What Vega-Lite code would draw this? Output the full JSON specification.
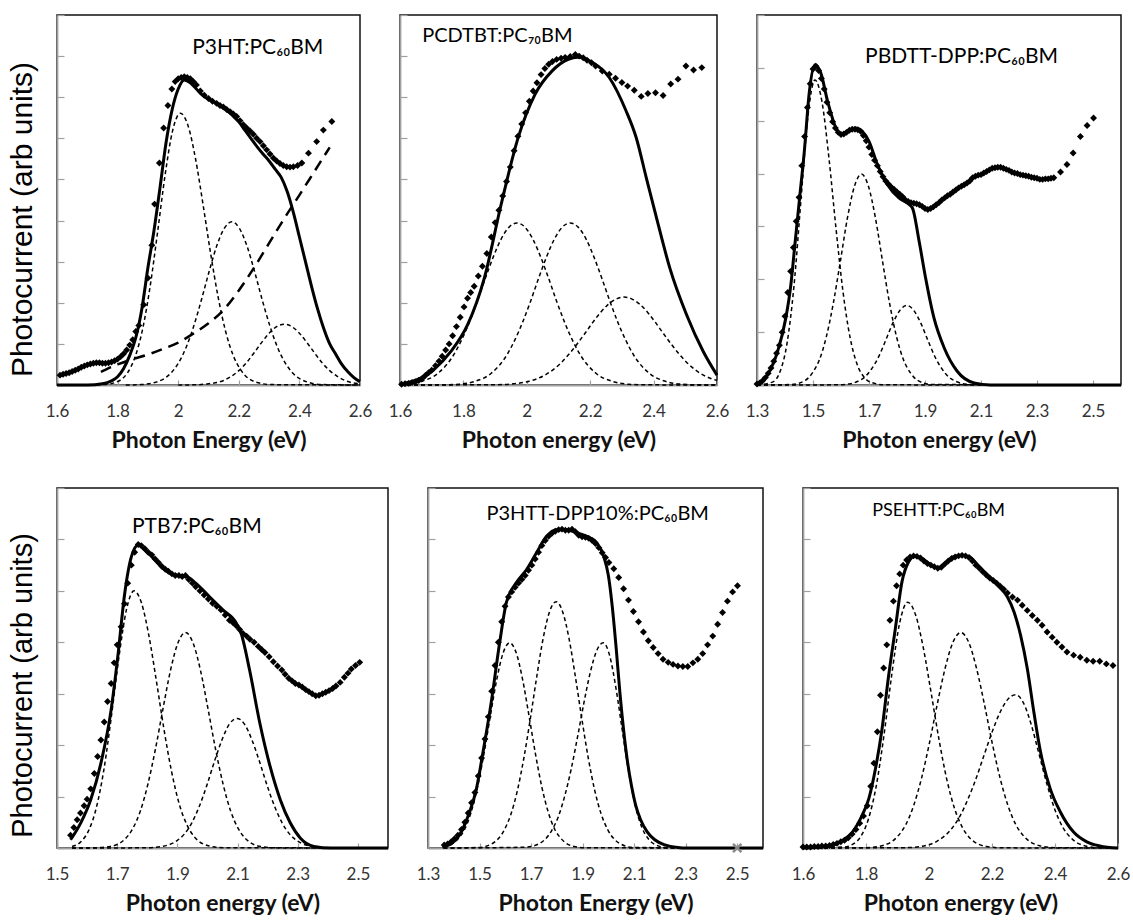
{
"$schema": "https://vega.github.io/schema/vega-lite/v6.json",
"padding": {"left": 6, "top": 13, "right": 5, "bottom": 0},
"config": {
  "view": {"stroke": "#111111", "strokeWidth": 1.5},
  "axis": {"grid": false, "domainColor": "#a0a0a0", "domainWidth": 1.8, "tickColor": "#a0a0a0", "tickWidth": 1.2, "labelFont": "Lato", "labelFontSize": 17, "labelColor": "#333333", "titleFont": "Lato", "titleFontSize": 23, "titleFontWeight": "bold", "titleColor": "#111111"},
  "axisX": {"tickSize": -5, "labelPadding": 23, "titlePadding": 10, "labelFlush": false, "format": "~g", "labelOverlap": false},
  "axisY": {"tickSize": -7, "labels": false, "titleFont": "Liberation Sans", "titleFontWeight": "normal", "titleColor": "#000000", "titlePadding": 19},
  "text": {"font": "Lato"}
},
"spacing": 33,
"vconcat": [
 {"hconcat": [
 {"width": 303, "height": 370, "data": {"name": "p1"},
  "layer": [
   {"transform": [{"filter": "datum.s === 'g1' || datum.s === 'g2' || datum.s === 'g3'"}], "mark": {"type": "line", "interpolate": "monotone", "strokeDash": [4, 3], "strokeWidth": 1.5, "color": "#000000"},
    "encoding": {"x": {"field": "e", "type": "quantitative", "scale": {"domain": [1.6, 2.6], "nice": false, "zero": false}, "axis": {"values": [1.6, 1.8, 2, 2.2, 2.4, 2.6], "title": "Photon Energy (eV)"}},
     "y": {"field": "v", "type": "quantitative", "scale": {"domain": [0, 9], "nice": false}, "axis": {"values": [0,1,2,3,4,5,6,7,8,9], "title": "Photocurrent (arb units)", "titleFontSize": 30, "titleY": 204}},
     "detail": {"field": "s"}}},
   {"transform": [{"filter": "datum.s === 'b'"}], "mark": {"type": "line", "interpolate": "monotone", "strokeDash": [11, 7], "strokeWidth": 2.5, "color": "#000000"},
    "encoding": {"x": {"field": "e", "type": "quantitative", "scale": {"domain": [1.6, 2.6], "nice": false, "zero": false}}, "y": {"field": "v", "type": "quantitative", "scale": {"domain": [0, 9], "nice": false}}}},
   {"transform": [{"filter": "datum.s === 'f'"}], "mark": {"type": "line", "interpolate": "monotone", "strokeWidth": 3, "color": "#000000"},
    "encoding": {"x": {"field": "e", "type": "quantitative", "scale": {"domain": [1.6, 2.6], "nice": false, "zero": false}}, "y": {"field": "v", "type": "quantitative", "scale": {"domain": [0, 9], "nice": false}}}},
   {"transform": [{"filter": "datum.s === 'd'"}], "mark": {"type": "point", "shape": "diamond", "filled": true, "size": 48, "opacity": 1, "color": "#000000"},
    "encoding": {"x": {"field": "e", "type": "quantitative", "scale": {"domain": [1.6, 2.6], "nice": false, "zero": false}}, "y": {"field": "v", "type": "quantitative", "scale": {"domain": [0, 9], "nice": false}}}},
   {"data": {"values": [{}]}, "mark": {"type": "text", "align": "left", "baseline": "middle", "fontSize": 21, "color": "#000000"},
    "encoding": {"x": {"datum": 2.046, "type": "quantitative", "scale": {"domain": [1.6, 2.6], "nice": false, "zero": false}}, "y": {"datum": 8.2, "type": "quantitative", "scale": {"domain": [0, 9], "nice": false}}, "text": {"value": "P3HT:PC₆₀BM"}}}
  ]},
 {"width": 317, "height": 370, "data": {"name": "p2"},
  "layer": [
   {"transform": [{"filter": "datum.s === 'g1' || datum.s === 'g2' || datum.s === 'g3'"}], "mark": {"type": "line", "interpolate": "monotone", "strokeDash": [4, 3], "strokeWidth": 1.5, "color": "#000000"},
    "encoding": {"x": {"field": "e", "type": "quantitative", "scale": {"domain": [1.6, 2.6], "nice": false, "zero": false}, "axis": {"values": [1.6, 1.8, 2, 2.2, 2.4, 2.6], "title": "Photon energy (eV)"}},
     "y": {"field": "v", "type": "quantitative", "scale": {"domain": [0, 9], "nice": false}, "axis": {"values": [0,1,2,3,4,5,6,7,8,9], "title": null}},
     "detail": {"field": "s"}}},
   {"transform": [{"filter": "datum.s === 'f'"}], "mark": {"type": "line", "interpolate": "monotone", "strokeWidth": 3, "color": "#000000"},
    "encoding": {"x": {"field": "e", "type": "quantitative", "scale": {"domain": [1.6, 2.6], "nice": false, "zero": false}}, "y": {"field": "v", "type": "quantitative", "scale": {"domain": [0, 9], "nice": false}}}},
   {"transform": [{"filter": "datum.s === 'd'"}], "mark": {"type": "point", "shape": "diamond", "filled": true, "size": 48, "opacity": 1, "color": "#000000"},
    "encoding": {"x": {"field": "e", "type": "quantitative", "scale": {"domain": [1.6, 2.6], "nice": false, "zero": false}}, "y": {"field": "v", "type": "quantitative", "scale": {"domain": [0, 9], "nice": false}}}},
   {"data": {"values": [{}]}, "mark": {"type": "text", "align": "left", "baseline": "middle", "fontSize": 20, "color": "#000000"},
    "encoding": {"x": {"datum": 1.67, "type": "quantitative", "scale": {"domain": [1.6, 2.6], "nice": false, "zero": false}}, "y": {"datum": 8.5, "type": "quantitative", "scale": {"domain": [0, 9], "nice": false}}, "text": {"value": "PCDTBT:PC₇₀BM"}}}
  ]},
 {"width": 364, "height": 370, "data": {"name": "p3"},
  "layer": [
   {"transform": [{"filter": "datum.s === 'g1' || datum.s === 'g2' || datum.s === 'g3'"}], "mark": {"type": "line", "interpolate": "monotone", "strokeDash": [4, 3], "strokeWidth": 1.5, "color": "#000000"},
    "encoding": {"x": {"field": "e", "type": "quantitative", "scale": {"domain": [1.3, 2.6], "nice": false, "zero": false}, "axis": {"values": [1.3, 1.5, 1.7, 1.9, 2.1, 2.3, 2.5], "title": "Photon energy (eV)"}},
     "y": {"field": "v", "type": "quantitative", "scale": {"domain": [0, 7], "nice": false}, "axis": {"values": [0,1,2,3,4,5,6,7], "title": null}},
     "detail": {"field": "s"}}},
   {"transform": [{"filter": "datum.s === 'f'"}], "mark": {"type": "line", "interpolate": "monotone", "strokeWidth": 3, "color": "#000000"},
    "encoding": {"x": {"field": "e", "type": "quantitative", "scale": {"domain": [1.3, 2.6], "nice": false, "zero": false}}, "y": {"field": "v", "type": "quantitative", "scale": {"domain": [0, 7], "nice": false}}}},
   {"transform": [{"filter": "datum.s === 'd'"}], "mark": {"type": "point", "shape": "diamond", "filled": true, "size": 48, "opacity": 1, "color": "#000000"},
    "encoding": {"x": {"field": "e", "type": "quantitative", "scale": {"domain": [1.3, 2.6], "nice": false, "zero": false}}, "y": {"field": "v", "type": "quantitative", "scale": {"domain": [0, 7], "nice": false}}}},
   {"data": {"values": [{}]}, "mark": {"type": "text", "align": "left", "baseline": "middle", "fontSize": 21, "color": "#000000"},
    "encoding": {"x": {"datum": 1.686, "type": "quantitative", "scale": {"domain": [1.3, 2.6], "nice": false, "zero": false}}, "y": {"datum": 6.2, "type": "quantitative", "scale": {"domain": [0, 7], "nice": false}}, "text": {"value": "PBDTT-DPP:PC₆₀BM"}}}
  ]}
 ], "spacing": 40, "bounds": "flush"},
 {"hconcat": [
 {"width": 331, "height": 360, "data": {"name": "p4"},
  "layer": [
   {"transform": [{"filter": "datum.s === 'g1' || datum.s === 'g2' || datum.s === 'g3'"}], "mark": {"type": "line", "interpolate": "monotone", "strokeDash": [4, 3], "strokeWidth": 1.5, "color": "#000000"},
    "encoding": {"x": {"field": "e", "type": "quantitative", "scale": {"domain": [1.5, 2.6], "nice": false, "zero": false}, "axis": {"values": [1.5, 1.7, 1.9, 2.1, 2.3, 2.5], "title": "Photon energy (eV)"}},
     "y": {"field": "v", "type": "quantitative", "scale": {"domain": [0, 7], "nice": false}, "axis": {"values": [0,1,2,3,4,5,6,7], "title": "Photocurrent (arb units)", "titleFontSize": 29, "titleY": 197}},
     "detail": {"field": "s"}}},
   {"transform": [{"filter": "datum.s === 'f'"}], "mark": {"type": "line", "interpolate": "monotone", "strokeWidth": 3, "color": "#000000"},
    "encoding": {"x": {"field": "e", "type": "quantitative", "scale": {"domain": [1.5, 2.6], "nice": false, "zero": false}}, "y": {"field": "v", "type": "quantitative", "scale": {"domain": [0, 7], "nice": false}}}},
   {"transform": [{"filter": "datum.s === 'd'"}], "mark": {"type": "point", "shape": "diamond", "filled": true, "size": 48, "opacity": 1, "color": "#000000"},
    "encoding": {"x": {"field": "e", "type": "quantitative", "scale": {"domain": [1.5, 2.6], "nice": false, "zero": false}}, "y": {"field": "v", "type": "quantitative", "scale": {"domain": [0, 7], "nice": false}}}},
   {"data": {"values": [{}]}, "mark": {"type": "text", "align": "left", "baseline": "middle", "fontSize": 21, "color": "#000000"},
    "encoding": {"x": {"datum": 1.749, "type": "quantitative", "scale": {"domain": [1.5, 2.6], "nice": false, "zero": false}}, "y": {"datum": 6.25, "type": "quantitative", "scale": {"domain": [0, 7], "nice": false}}, "text": {"value": "PTB7:PC₆₀BM"}}}
  ]},
 {"width": 335, "height": 360, "data": {"name": "p5"},
  "layer": [
   {"transform": [{"filter": "datum.s === 'g1' || datum.s === 'g2' || datum.s === 'g3'"}], "mark": {"type": "line", "interpolate": "monotone", "strokeDash": [4, 3], "strokeWidth": 1.5, "color": "#000000"},
    "encoding": {"x": {"field": "e", "type": "quantitative", "scale": {"domain": [1.3, 2.6], "nice": false, "zero": false}, "axis": {"values": [1.3, 1.5, 1.7, 1.9, 2.1, 2.3, 2.5], "title": "Photon Energy (eV)"}},
     "y": {"field": "v", "type": "quantitative", "scale": {"domain": [0, 7], "nice": false}, "axis": {"values": [0,1,2,3,4,5,6,7], "title": null}},
     "detail": {"field": "s"}}},
   {"transform": [{"filter": "datum.s === 'f'"}], "mark": {"type": "line", "interpolate": "monotone", "strokeWidth": 3, "color": "#000000"},
    "encoding": {"x": {"field": "e", "type": "quantitative", "scale": {"domain": [1.3, 2.6], "nice": false, "zero": false}}, "y": {"field": "v", "type": "quantitative", "scale": {"domain": [0, 7], "nice": false}}}},
   {"transform": [{"filter": "datum.s === 'd'"}], "mark": {"type": "point", "shape": "diamond", "filled": true, "size": 48, "opacity": 1, "color": "#000000"},
    "encoding": {"x": {"field": "e", "type": "quantitative", "scale": {"domain": [1.3, 2.6], "nice": false, "zero": false}}, "y": {"field": "v", "type": "quantitative", "scale": {"domain": [0, 7], "nice": false}}}},
   {"transform": [{"filter": "datum.s === 'x'"}], "mark": {"type": "point", "shape": "M-1,-1L1,1M1,-1L-1,1", "filled": false, "size": 70, "strokeWidth": 2.5, "opacity": 1, "color": "#8a8a8a"},
    "encoding": {"x": {"field": "e", "type": "quantitative", "scale": {"domain": [1.3, 2.6], "nice": false, "zero": false}}, "y": {"field": "v", "type": "quantitative", "scale": {"domain": [0, 7], "nice": false}}}},
   {"data": {"values": [{}]}, "mark": {"type": "text", "align": "left", "baseline": "middle", "fontSize": 20, "color": "#000000"},
    "encoding": {"x": {"datum": 1.527, "type": "quantitative", "scale": {"domain": [1.3, 2.6], "nice": false, "zero": false}}, "y": {"datum": 6.5, "type": "quantitative", "scale": {"domain": [0, 7], "nice": false}}, "text": {"value": "P3HTT-DPP10%:PC₆₀BM"}}}
  ]},
 {"width": 315, "height": 360, "data": {"name": "p6"},
  "layer": [
   {"transform": [{"filter": "datum.s === 'g1' || datum.s === 'g2' || datum.s === 'g3'"}], "mark": {"type": "line", "interpolate": "monotone", "strokeDash": [4, 3], "strokeWidth": 1.5, "color": "#000000"},
    "encoding": {"x": {"field": "e", "type": "quantitative", "scale": {"domain": [1.6, 2.6], "nice": false, "zero": false}, "axis": {"values": [1.6, 1.8, 2, 2.2, 2.4, 2.6], "title": "Photon energy (eV)"}},
     "y": {"field": "v", "type": "quantitative", "scale": {"domain": [0, 7], "nice": false}, "axis": {"values": [0,1,2,3,4,5,6,7], "title": null}},
     "detail": {"field": "s"}}},
   {"transform": [{"filter": "datum.s === 'f'"}], "mark": {"type": "line", "interpolate": "monotone", "strokeWidth": 3, "color": "#000000"},
    "encoding": {"x": {"field": "e", "type": "quantitative", "scale": {"domain": [1.6, 2.6], "nice": false, "zero": false}}, "y": {"field": "v", "type": "quantitative", "scale": {"domain": [0, 7], "nice": false}}}},
   {"transform": [{"filter": "datum.s === 'd'"}], "mark": {"type": "point", "shape": "diamond", "filled": true, "size": 48, "opacity": 1, "color": "#000000"},
    "encoding": {"x": {"field": "e", "type": "quantitative", "scale": {"domain": [1.6, 2.6], "nice": false, "zero": false}}, "y": {"field": "v", "type": "quantitative", "scale": {"domain": [0, 7], "nice": false}}}},
   {"data": {"values": [{}]}, "mark": {"type": "text", "align": "left", "baseline": "middle", "fontSize": 18, "color": "#000000"},
    "encoding": {"x": {"datum": 1.82, "type": "quantitative", "scale": {"domain": [1.6, 2.6], "nice": false, "zero": false}}, "y": {"datum": 6.55, "type": "quantitative", "scale": {"domain": [0, 7], "nice": false}}, "text": {"value": "PSEHTT:PC₆₀BM"}}}
  ]}
 ], "spacing": 40, "bounds": "flush"}
],
"datasets": {
 "p1": [
  {"s":"d","e":1.61,"v":0.24},{"s":"d","e":1.62,"v":0.26},{"s":"d","e":1.63,"v":0.28},{"s":"d","e":1.64,"v":0.3},{"s":"d","e":1.65,"v":0.33},{"s":"d","e":1.66,"v":0.36},{"s":"d","e":1.67,"v":0.39},{"s":"d","e":1.68,"v":0.43},{"s":"d","e":1.69,"v":0.46},{"s":"d","e":1.7,"v":0.49},{"s":"d","e":1.71,"v":0.51},{"s":"d","e":1.72,"v":0.53},{"s":"d","e":1.73,"v":0.54},{"s":"d","e":1.74,"v":0.54},{"s":"d","e":1.75,"v":0.53},{"s":"d","e":1.76,"v":0.53},{"s":"d","e":1.77,"v":0.54},{"s":"d","e":1.78,"v":0.56},{"s":"d","e":1.79,"v":0.59},{"s":"d","e":1.8,"v":0.63},{"s":"d","e":1.81,"v":0.69},{"s":"d","e":1.82,"v":0.76},{"s":"d","e":1.83,"v":0.85},{"s":"d","e":1.84,"v":0.97},{"s":"d","e":1.85,"v":1.1},{"s":"d","e":1.86,"v":1.3},{"s":"d","e":1.87,"v":1.45},{"s":"d","e":1.886,"v":1.95},{"s":"d","e":1.9,"v":2.6},{"s":"d","e":1.913,"v":3.4},{"s":"d","e":1.922,"v":4.4},{"s":"d","e":1.938,"v":5.4},{"s":"d","e":1.952,"v":6.25},{"s":"d","e":1.966,"v":6.8},{"s":"d","e":1.979,"v":7.2},{"s":"d","e":1.99,"v":7.38},{"s":"d","e":2.0,"v":7.45},{"s":"d","e":2.01,"v":7.48},{"s":"d","e":2.02,"v":7.5},{"s":"d","e":2.03,"v":7.48},{"s":"d","e":2.04,"v":7.45},{"s":"d","e":2.05,"v":7.38},{"s":"d","e":2.06,"v":7.3},{"s":"d","e":2.073,"v":7.15},{"s":"d","e":2.086,"v":7.05},{"s":"d","e":2.1,"v":6.97},{"s":"d","e":2.113,"v":6.9},{"s":"d","e":2.127,"v":6.85},{"s":"d","e":2.138,"v":6.8},{"s":"d","e":2.149,"v":6.76},{"s":"d","e":2.16,"v":6.7},{"s":"d","e":2.171,"v":6.65},{"s":"d","e":2.182,"v":6.59},{"s":"d","e":2.193,"v":6.53},{"s":"d","e":2.204,"v":6.43},{"s":"d","e":2.215,"v":6.33},{"s":"d","e":2.226,"v":6.25},{"s":"d","e":2.237,"v":6.18},{"s":"d","e":2.248,"v":6.1},{"s":"d","e":2.259,"v":6.0},{"s":"d","e":2.27,"v":5.92},{"s":"d","e":2.281,"v":5.82},{"s":"d","e":2.292,"v":5.72},{"s":"d","e":2.303,"v":5.62},{"s":"d","e":2.314,"v":5.52},{"s":"d","e":2.325,"v":5.45},{"s":"d","e":2.336,"v":5.39},{"s":"d","e":2.347,"v":5.34},{"s":"d","e":2.358,"v":5.31},{"s":"d","e":2.369,"v":5.3},{"s":"d","e":2.38,"v":5.31},{"s":"d","e":2.394,"v":5.34},{"s":"d","e":2.408,"v":5.4},{"s":"d","e":2.43,"v":5.64},{"s":"d","e":2.457,"v":5.92},{"s":"d","e":2.479,"v":6.2},{"s":"d","e":2.507,"v":6.41},
  {"s":"f","e":1.6,"v":0},{"s":"f","e":1.7,"v":0},{"s":"f","e":1.75,"v":0.03},{"s":"f","e":1.78,"v":0.1},{"s":"f","e":1.8,"v":0.2},{"s":"f","e":1.82,"v":0.4},{"s":"f","e":1.84,"v":0.72},{"s":"f","e":1.86,"v":1.15},{"s":"f","e":1.88,"v":1.85},{"s":"f","e":1.9,"v":2.85},{"s":"f","e":1.92,"v":3.75},{"s":"f","e":1.94,"v":4.8},{"s":"f","e":1.96,"v":5.9},{"s":"f","e":1.98,"v":6.7},{"s":"f","e":2.0,"v":7.2},{"s":"f","e":2.02,"v":7.42},{"s":"f","e":2.04,"v":7.35},{"s":"f","e":2.06,"v":7.2},{"s":"f","e":2.08,"v":7.05},{"s":"f","e":2.1,"v":6.95},{"s":"f","e":2.12,"v":6.88},{"s":"f","e":2.14,"v":6.78},{"s":"f","e":2.16,"v":6.68},{"s":"f","e":2.18,"v":6.55},{"s":"f","e":2.2,"v":6.4},{"s":"f","e":2.22,"v":6.2},{"s":"f","e":2.24,"v":6.0},{"s":"f","e":2.26,"v":5.8},{"s":"f","e":2.28,"v":5.62},{"s":"f","e":2.3,"v":5.45},{"s":"f","e":2.32,"v":5.25},{"s":"f","e":2.34,"v":5.05},{"s":"f","e":2.36,"v":4.7},{"s":"f","e":2.38,"v":4.2},{"s":"f","e":2.4,"v":3.6},{"s":"f","e":2.42,"v":3.0},{"s":"f","e":2.44,"v":2.4},{"s":"f","e":2.46,"v":1.85},{"s":"f","e":2.48,"v":1.38},{"s":"f","e":2.5,"v":1.0},{"s":"f","e":2.52,"v":0.75},{"s":"f","e":2.54,"v":0.5},{"s":"f","e":2.56,"v":0.32},{"s":"f","e":2.58,"v":0.18},{"s":"f","e":2.6,"v":0.08},
  {"s":"g1","e":1.707,"v":0},{"s":"g1","e":1.757,"v":0.01},{"s":"g1","e":1.807,"v":0.11},{"s":"g1","e":1.832,"v":0.29},{"s":"g1","e":1.857,"v":0.67},{"s":"g1","e":1.882,"v":1.34},{"s":"g1","e":1.907,"v":2.38},{"s":"g1","e":1.932,"v":3.72},{"s":"g1","e":1.957,"v":5.12},{"s":"g1","e":1.982,"v":6.2},{"s":"g1","e":2.007,"v":6.61},{"s":"g1","e":2.032,"v":6.32},{"s":"g1","e":2.057,"v":5.51},{"s":"g1","e":2.082,"v":4.39},{"s":"g1","e":2.107,"v":3.2},{"s":"g1","e":2.132,"v":2.13},{"s":"g1","e":2.157,"v":1.29},{"s":"g1","e":2.182,"v":0.71},{"s":"g1","e":2.207,"v":0.36},{"s":"g1","e":2.257,"v":0.07},{"s":"g1","e":2.307,"v":0.01},{"s":"g1","e":2.6,"v":0},
  {"s":"g2","e":1.827,"v":0},{"s":"g2","e":1.877,"v":0.01},{"s":"g2","e":1.927,"v":0.07},{"s":"g2","e":1.977,"v":0.3},{"s":"g2","e":2.002,"v":0.55},{"s":"g2","e":2.027,"v":0.93},{"s":"g2","e":2.052,"v":1.45},{"s":"g2","e":2.077,"v":2.08},{"s":"g2","e":2.102,"v":2.76},{"s":"g2","e":2.127,"v":3.38},{"s":"g2","e":2.152,"v":3.81},{"s":"g2","e":2.177,"v":3.97},{"s":"g2","e":2.202,"v":3.81},{"s":"g2","e":2.227,"v":3.38},{"s":"g2","e":2.252,"v":2.76},{"s":"g2","e":2.277,"v":2.08},{"s":"g2","e":2.302,"v":1.45},{"s":"g2","e":2.327,"v":0.93},{"s":"g2","e":2.352,"v":0.55},{"s":"g2","e":2.377,"v":0.3},{"s":"g2","e":2.427,"v":0.07},{"s":"g2","e":2.477,"v":0.01},{"s":"g2","e":2.6,"v":0},
  {"s":"g3","e":2.0,"v":0},{"s":"g3","e":2.05,"v":0.004},{"s":"g3","e":2.1,"v":0.03},{"s":"g3","e":2.15,"v":0.11},{"s":"g3","e":2.175,"v":0.21},{"s":"g3","e":2.2,"v":0.35},{"s":"g3","e":2.225,"v":0.54},{"s":"g3","e":2.25,"v":0.78},{"s":"g3","e":2.275,"v":1.03},{"s":"g3","e":2.3,"v":1.26},{"s":"g3","e":2.325,"v":1.42},{"s":"g3","e":2.35,"v":1.48},{"s":"g3","e":2.375,"v":1.42},{"s":"g3","e":2.4,"v":1.26},{"s":"g3","e":2.425,"v":1.03},{"s":"g3","e":2.45,"v":0.78},{"s":"g3","e":2.475,"v":0.54},{"s":"g3","e":2.5,"v":0.35},{"s":"g3","e":2.525,"v":0.21},{"s":"g3","e":2.55,"v":0.11},{"s":"g3","e":2.6,"v":0.03},
  {"s":"b","e":1.745,"v":0.32},{"s":"b","e":1.8,"v":0.5},{"s":"b","e":1.85,"v":0.63},{"s":"b","e":1.9,"v":0.74},{"s":"b","e":1.95,"v":0.88},{"s":"b","e":2.0,"v":1.03},{"s":"b","e":2.05,"v":1.25},{"s":"b","e":2.1,"v":1.5},{"s":"b","e":2.15,"v":1.83},{"s":"b","e":2.2,"v":2.3},{"s":"b","e":2.25,"v":2.85},{"s":"b","e":2.3,"v":3.45},{"s":"b","e":2.35,"v":4.05},{"s":"b","e":2.4,"v":4.62},{"s":"b","e":2.45,"v":5.2},{"s":"b","e":2.5,"v":5.78}
 ],
 "p2": [
  {"s":"d","e":1.605,"v":0.02},{"s":"d","e":1.616,"v":0.03},{"s":"d","e":1.627,"v":0.04},{"s":"d","e":1.638,"v":0.06},{"s":"d","e":1.648,"v":0.08},{"s":"d","e":1.659,"v":0.11},{"s":"d","e":1.67,"v":0.16},{"s":"d","e":1.68,"v":0.23},{"s":"d","e":1.69,"v":0.3},{"s":"d","e":1.7,"v":0.36},{"s":"d","e":1.712,"v":0.47},{"s":"d","e":1.723,"v":0.58},{"s":"d","e":1.733,"v":0.7},{"s":"d","e":1.744,"v":0.85},{"s":"d","e":1.755,"v":1.0},{"s":"d","e":1.766,"v":1.2},{"s":"d","e":1.778,"v":1.42},{"s":"d","e":1.79,"v":1.65},{"s":"d","e":1.802,"v":1.9},{"s":"d","e":1.813,"v":2.11},{"s":"d","e":1.823,"v":2.25},{"s":"d","e":1.834,"v":2.4},{"s":"d","e":1.847,"v":2.65},{"s":"d","e":1.86,"v":2.89},{"s":"d","e":1.874,"v":3.2},{"s":"d","e":1.888,"v":3.6},{"s":"d","e":1.9,"v":3.95},{"s":"d","e":1.912,"v":4.25},{"s":"d","e":1.924,"v":4.6},{"s":"d","e":1.936,"v":4.95},{"s":"d","e":1.948,"v":5.3},{"s":"d","e":1.96,"v":5.7},{"s":"d","e":1.972,"v":6.05},{"s":"d","e":1.984,"v":6.35},{"s":"d","e":1.996,"v":6.62},{"s":"d","e":2.008,"v":6.9},{"s":"d","e":2.02,"v":7.15},{"s":"d","e":2.032,"v":7.35},{"s":"d","e":2.045,"v":7.55},{"s":"d","e":2.057,"v":7.7},{"s":"d","e":2.069,"v":7.8},{"s":"d","e":2.081,"v":7.87},{"s":"d","e":2.094,"v":7.92},{"s":"d","e":2.108,"v":7.95},{"s":"d","e":2.121,"v":7.97},{"s":"d","e":2.137,"v":7.99},{"s":"d","e":2.153,"v":8.04},{"s":"d","e":2.165,"v":8.0},{"s":"d","e":2.178,"v":7.96},{"s":"d","e":2.19,"v":7.9},{"s":"d","e":2.204,"v":7.84},{"s":"d","e":2.217,"v":7.76},{"s":"d","e":2.238,"v":7.64},{"s":"d","e":2.26,"v":7.56},{"s":"d","e":2.28,"v":7.46},{"s":"d","e":2.3,"v":7.36},{"s":"d","e":2.318,"v":7.27},{"s":"d","e":2.339,"v":7.17},{"s":"d","e":2.361,"v":7.02},{"s":"d","e":2.382,"v":7.09},{"s":"d","e":2.406,"v":7.11},{"s":"d","e":2.43,"v":7.04},{"s":"d","e":2.454,"v":7.32},{"s":"d","e":2.477,"v":7.44},{"s":"d","e":2.502,"v":7.76},{"s":"d","e":2.526,"v":7.66},{"s":"d","e":2.552,"v":7.72},
  {"s":"f","e":1.6,"v":0.02},{"s":"f","e":1.65,"v":0.12},{"s":"f","e":1.706,"v":0.37},{"s":"f","e":1.76,"v":0.81},{"s":"f","e":1.813,"v":1.46},{"s":"f","e":1.866,"v":2.6},{"s":"f","e":1.919,"v":4.39},{"s":"f","e":1.972,"v":6.0},{"s":"f","e":2.026,"v":7.07},{"s":"f","e":2.08,"v":7.64},{"s":"f","e":2.133,"v":7.93},{"s":"f","e":2.16,"v":7.97},{"s":"f","e":2.206,"v":7.85},{"s":"f","e":2.26,"v":7.48},{"s":"f","e":2.313,"v":6.67},{"s":"f","e":2.345,"v":6.02},{"s":"f","e":2.377,"v":5.04},{"s":"f","e":2.409,"v":4.07},{"s":"f","e":2.451,"v":2.85},{"s":"f","e":2.504,"v":1.71},{"s":"f","e":2.557,"v":0.81},{"s":"f","e":2.6,"v":0.24},
  {"s":"g1","e":1.6,"v":0.01},{"s":"g1","e":1.619,"v":0.02},{"s":"g1","e":1.669,"v":0.09},{"s":"g1","e":1.719,"v":0.28},{"s":"g1","e":1.769,"v":0.73},{"s":"g1","e":1.794,"v":1.09},{"s":"g1","e":1.819,"v":1.53},{"s":"g1","e":1.844,"v":2.04},{"s":"g1","e":1.869,"v":2.59},{"s":"g1","e":1.894,"v":3.11},{"s":"g1","e":1.919,"v":3.55},{"s":"g1","e":1.944,"v":3.84},{"s":"g1","e":1.969,"v":3.94},{"s":"g1","e":1.994,"v":3.84},{"s":"g1","e":2.019,"v":3.55},{"s":"g1","e":2.044,"v":3.11},{"s":"g1","e":2.069,"v":2.59},{"s":"g1","e":2.094,"v":2.04},{"s":"g1","e":2.119,"v":1.53},{"s":"g1","e":2.144,"v":1.09},{"s":"g1","e":2.169,"v":0.73},{"s":"g1","e":2.219,"v":0.28},{"s":"g1","e":2.269,"v":0.09},{"s":"g1","e":2.319,"v":0.02},{"s":"g1","e":2.369,"v":0.005},{"s":"g1","e":2.6,"v":0},
  {"s":"g2","e":1.6,"v":0},{"s":"g2","e":1.737,"v":0.005},{"s":"g2","e":1.787,"v":0.02},{"s":"g2","e":1.837,"v":0.09},{"s":"g2","e":1.887,"v":0.28},{"s":"g2","e":1.937,"v":0.73},{"s":"g2","e":1.962,"v":1.09},{"s":"g2","e":1.987,"v":1.53},{"s":"g2","e":2.012,"v":2.04},{"s":"g2","e":2.037,"v":2.59},{"s":"g2","e":2.062,"v":3.11},{"s":"g2","e":2.087,"v":3.55},{"s":"g2","e":2.112,"v":3.84},{"s":"g2","e":2.137,"v":3.94},{"s":"g2","e":2.162,"v":3.84},{"s":"g2","e":2.187,"v":3.55},{"s":"g2","e":2.212,"v":3.11},{"s":"g2","e":2.237,"v":2.59},{"s":"g2","e":2.262,"v":2.04},{"s":"g2","e":2.287,"v":1.53},{"s":"g2","e":2.312,"v":1.09},{"s":"g2","e":2.337,"v":0.73},{"s":"g2","e":2.387,"v":0.28},{"s":"g2","e":2.437,"v":0.09},{"s":"g2","e":2.487,"v":0.02},{"s":"g2","e":2.537,"v":0.005},{"s":"g2","e":2.6,"v":0},
  {"s":"g3","e":1.6,"v":0},{"s":"g3","e":1.907,"v":0.008},{"s":"g3","e":1.957,"v":0.03},{"s":"g3","e":2.007,"v":0.09},{"s":"g3","e":2.057,"v":0.24},{"s":"g3","e":2.107,"v":0.53},{"s":"g3","e":2.132,"v":0.74},{"s":"g3","e":2.157,"v":0.98},{"s":"g3","e":2.182,"v":1.24},{"s":"g3","e":2.207,"v":1.51},{"s":"g3","e":2.232,"v":1.76},{"s":"g3","e":2.257,"v":1.96},{"s":"g3","e":2.282,"v":2.09},{"s":"g3","e":2.307,"v":2.14},{"s":"g3","e":2.332,"v":2.09},{"s":"g3","e":2.357,"v":1.96},{"s":"g3","e":2.382,"v":1.76},{"s":"g3","e":2.407,"v":1.51},{"s":"g3","e":2.432,"v":1.24},{"s":"g3","e":2.457,"v":0.98},{"s":"g3","e":2.482,"v":0.74},{"s":"g3","e":2.507,"v":0.53},{"s":"g3","e":2.557,"v":0.24},{"s":"g3","e":2.6,"v":0.11}
 ],
 "p3": [
  {"s":"d","e":1.3,"v":0.02},{"s":"d","e":1.31,"v":0.04},{"s":"d","e":1.32,"v":0.08},{"s":"d","e":1.33,"v":0.14},{"s":"d","e":1.34,"v":0.22},{"s":"d","e":1.35,"v":0.32},{"s":"d","e":1.36,"v":0.45},{"s":"d","e":1.37,"v":0.6},{"s":"d","e":1.38,"v":0.75},{"s":"d","e":1.39,"v":1.0},{"s":"d","e":1.4,"v":1.3},{"s":"d","e":1.41,"v":1.75},{"s":"d","e":1.42,"v":2.15},{"s":"d","e":1.43,"v":2.6},{"s":"d","e":1.44,"v":3.1},{"s":"d","e":1.45,"v":3.55},{"s":"d","e":1.46,"v":4.15},{"s":"d","e":1.47,"v":4.7},{"s":"d","e":1.48,"v":5.25},{"s":"d","e":1.49,"v":5.7},{"s":"d","e":1.5,"v":5.98},{"s":"d","e":1.51,"v":6.03},{"s":"d","e":1.52,"v":5.95},{"s":"d","e":1.53,"v":5.8},{"s":"d","e":1.54,"v":5.6},{"s":"d","e":1.55,"v":5.35},{"s":"d","e":1.56,"v":5.15},{"s":"d","e":1.57,"v":4.98},{"s":"d","e":1.58,"v":4.86},{"s":"d","e":1.59,"v":4.78},{"s":"d","e":1.6,"v":4.74},{"s":"d","e":1.61,"v":4.75},{"s":"d","e":1.62,"v":4.78},{"s":"d","e":1.63,"v":4.82},{"s":"d","e":1.64,"v":4.84},{"s":"d","e":1.65,"v":4.84},{"s":"d","e":1.66,"v":4.83},{"s":"d","e":1.67,"v":4.8},{"s":"d","e":1.68,"v":4.72},{"s":"d","e":1.69,"v":4.62},{"s":"d","e":1.7,"v":4.5},{"s":"d","e":1.71,"v":4.36},{"s":"d","e":1.72,"v":4.25},{"s":"d","e":1.73,"v":4.15},{"s":"d","e":1.74,"v":4.04},{"s":"d","e":1.75,"v":3.94},{"s":"d","e":1.76,"v":3.86},{"s":"d","e":1.77,"v":3.8},{"s":"d","e":1.78,"v":3.74},{"s":"d","e":1.79,"v":3.7},{"s":"d","e":1.8,"v":3.65},{"s":"d","e":1.81,"v":3.61},{"s":"d","e":1.82,"v":3.56},{"s":"d","e":1.83,"v":3.5},{"s":"d","e":1.84,"v":3.47},{"s":"d","e":1.85,"v":3.45},{"s":"d","e":1.86,"v":3.44},{"s":"d","e":1.87,"v":3.43},{"s":"d","e":1.88,"v":3.41},{"s":"d","e":1.89,"v":3.38},{"s":"d","e":1.9,"v":3.34},{"s":"d","e":1.91,"v":3.32},{"s":"d","e":1.92,"v":3.34},{"s":"d","e":1.93,"v":3.37},{"s":"d","e":1.94,"v":3.41},{"s":"d","e":1.95,"v":3.45},{"s":"d","e":1.96,"v":3.5},{"s":"d","e":1.97,"v":3.54},{"s":"d","e":1.98,"v":3.58},{"s":"d","e":1.99,"v":3.61},{"s":"d","e":2.0,"v":3.65},{"s":"d","e":2.01,"v":3.69},{"s":"d","e":2.02,"v":3.73},{"s":"d","e":2.03,"v":3.76},{"s":"d","e":2.04,"v":3.79},{"s":"d","e":2.05,"v":3.82},{"s":"d","e":2.06,"v":3.86},{"s":"d","e":2.07,"v":3.92},{"s":"d","e":2.08,"v":3.95},{"s":"d","e":2.09,"v":3.97},{"s":"d","e":2.1,"v":3.98},{"s":"d","e":2.11,"v":4.01},{"s":"d","e":2.12,"v":4.04},{"s":"d","e":2.13,"v":4.07},{"s":"d","e":2.14,"v":4.1},{"s":"d","e":2.15,"v":4.11},{"s":"d","e":2.16,"v":4.12},{"s":"d","e":2.17,"v":4.12},{"s":"d","e":2.18,"v":4.1},{"s":"d","e":2.19,"v":4.08},{"s":"d","e":2.2,"v":4.06},{"s":"d","e":2.21,"v":4.03},{"s":"d","e":2.22,"v":4.01},{"s":"d","e":2.23,"v":4.0},{"s":"d","e":2.24,"v":3.98},{"s":"d","e":2.25,"v":3.97},{"s":"d","e":2.26,"v":3.96},{"s":"d","e":2.27,"v":3.95},{"s":"d","e":2.28,"v":3.93},{"s":"d","e":2.29,"v":3.92},{"s":"d","e":2.3,"v":3.91},{"s":"d","e":2.31,"v":3.89},{"s":"d","e":2.32,"v":3.89},{"s":"d","e":2.33,"v":3.9},{"s":"d","e":2.34,"v":3.9},{"s":"d","e":2.35,"v":3.91},{"s":"d","e":2.36,"v":3.92},{"s":"d","e":2.384,"v":4.03},{"s":"d","e":2.407,"v":4.17},{"s":"d","e":2.429,"v":4.39},{"s":"d","e":2.455,"v":4.7},{"s":"d","e":2.479,"v":4.91},{"s":"d","e":2.502,"v":5.05},
  {"s":"f","e":1.3,"v":0.01},{"s":"f","e":1.338,"v":0.2},{"s":"f","e":1.374,"v":0.64},{"s":"f","e":1.403,"v":1.27},{"s":"f","e":1.421,"v":1.9},{"s":"f","e":1.433,"v":2.53},{"s":"f","e":1.451,"v":3.48},{"s":"f","e":1.469,"v":4.42},{"s":"f","e":1.487,"v":5.55},{"s":"f","e":1.507,"v":6.06},{"s":"f","e":1.528,"v":5.9},{"s":"f","e":1.552,"v":5.37},{"s":"f","e":1.582,"v":4.86},{"s":"f","e":1.599,"v":4.74},{"s":"f","e":1.623,"v":4.8},{"s":"f","e":1.653,"v":4.86},{"s":"f","e":1.676,"v":4.8},{"s":"f","e":1.7,"v":4.61},{"s":"f","e":1.73,"v":4.17},{"s":"f","e":1.766,"v":3.79},{"s":"f","e":1.807,"v":3.54},{"s":"f","e":1.837,"v":3.44},{"s":"f","e":1.855,"v":3.35},{"s":"f","e":1.879,"v":2.72},{"s":"f","e":1.902,"v":2.03},{"s":"f","e":1.932,"v":1.27},{"s":"f","e":1.968,"v":0.71},{"s":"f","e":2.015,"v":0.26},{"s":"f","e":2.075,"v":0.04},{"s":"f","e":2.134,"v":0},{"s":"f","e":2.6,"v":0},
  {"s":"g1","e":1.3,"v":0},{"s":"g1","e":1.357,"v":0.06},{"s":"g1","e":1.382,"v":0.25},{"s":"g1","e":1.407,"v":0.78},{"s":"g1","e":1.432,"v":1.87},{"s":"g1","e":1.457,"v":3.5},{"s":"g1","e":1.482,"v":5.09},{"s":"g1","e":1.507,"v":5.77},{"s":"g1","e":1.532,"v":5.36},{"s":"g1","e":1.557,"v":4.29},{"s":"g1","e":1.582,"v":2.97},{"s":"g1","e":1.607,"v":1.77},{"s":"g1","e":1.632,"v":0.91},{"s":"g1","e":1.657,"v":0.4},{"s":"g1","e":1.682,"v":0.15},{"s":"g1","e":1.707,"v":0.05},{"s":"g1","e":1.757,"v":0.003},{"s":"g1","e":2.6,"v":0},
  {"s":"g2","e":1.3,"v":0},{"s":"g2","e":1.423,"v":0.01},{"s":"g2","e":1.473,"v":0.09},{"s":"g2","e":1.498,"v":0.23},{"s":"g2","e":1.523,"v":0.48},{"s":"g2","e":1.548,"v":0.92},{"s":"g2","e":1.573,"v":1.56},{"s":"g2","e":1.598,"v":2.35},{"s":"g2","e":1.623,"v":3.16},{"s":"g2","e":1.648,"v":3.76},{"s":"g2","e":1.673,"v":3.99},{"s":"g2","e":1.698,"v":3.76},{"s":"g2","e":1.723,"v":3.16},{"s":"g2","e":1.748,"v":2.35},{"s":"g2","e":1.773,"v":1.56},{"s":"g2","e":1.798,"v":0.92},{"s":"g2","e":1.823,"v":0.48},{"s":"g2","e":1.848,"v":0.23},{"s":"g2","e":1.873,"v":0.09},{"s":"g2","e":1.923,"v":0.01},{"s":"g2","e":2.6,"v":0},
  {"s":"g3","e":1.3,"v":0},{"s":"g3","e":1.585,"v":0.003},{"s":"g3","e":1.635,"v":0.025},{"s":"g3","e":1.66,"v":0.07},{"s":"g3","e":1.685,"v":0.15},{"s":"g3","e":1.71,"v":0.31},{"s":"g3","e":1.735,"v":0.54},{"s":"g3","e":1.76,"v":0.85},{"s":"g3","e":1.785,"v":1.17},{"s":"g3","e":1.81,"v":1.41},{"s":"g3","e":1.835,"v":1.505},{"s":"g3","e":1.86,"v":1.41},{"s":"g3","e":1.885,"v":1.17},{"s":"g3","e":1.91,"v":0.85},{"s":"g3","e":1.935,"v":0.54},{"s":"g3","e":1.96,"v":0.31},{"s":"g3","e":1.985,"v":0.15},{"s":"g3","e":2.01,"v":0.07},{"s":"g3","e":2.035,"v":0.025},{"s":"g3","e":2.085,"v":0.003},{"s":"g3","e":2.6,"v":0}
 ],
 "p4": [
  {"s":"d","e":1.545,"v":0.25},{"s":"d","e":1.556,"v":0.4},{"s":"d","e":1.567,"v":0.55},{"s":"d","e":1.578,"v":0.68},{"s":"d","e":1.59,"v":0.82},{"s":"d","e":1.6,"v":0.95},{"s":"d","e":1.612,"v":1.15},{"s":"d","e":1.624,"v":1.45},{"s":"d","e":1.635,"v":1.78},{"s":"d","e":1.646,"v":2.1},{"s":"d","e":1.657,"v":2.45},{"s":"d","e":1.668,"v":2.85},{"s":"d","e":1.68,"v":3.2},{"s":"d","e":1.69,"v":3.6},{"s":"d","e":1.7,"v":3.95},{"s":"d","e":1.713,"v":4.3},{"s":"d","e":1.724,"v":4.75},{"s":"d","e":1.735,"v":5.15},{"s":"d","e":1.747,"v":5.5},{"s":"d","e":1.758,"v":5.75},{"s":"d","e":1.77,"v":5.9},{"s":"d","e":1.78,"v":5.88},{"s":"d","e":1.792,"v":5.82},{"s":"d","e":1.803,"v":5.75},{"s":"d","e":1.815,"v":5.7},{"s":"d","e":1.826,"v":5.62},{"s":"d","e":1.837,"v":5.55},{"s":"d","e":1.848,"v":5.48},{"s":"d","e":1.86,"v":5.42},{"s":"d","e":1.87,"v":5.38},{"s":"d","e":1.882,"v":5.33},{"s":"d","e":1.893,"v":5.3},{"s":"d","e":1.905,"v":5.3},{"s":"d","e":1.916,"v":5.28},{"s":"d","e":1.927,"v":5.3},{"s":"d","e":1.938,"v":5.22},{"s":"d","e":1.95,"v":5.15},{"s":"d","e":1.961,"v":5.08},{"s":"d","e":1.975,"v":5.0},{"s":"d","e":1.989,"v":4.92},{"s":"d","e":2.003,"v":4.84},{"s":"d","e":2.017,"v":4.76},{"s":"d","e":2.031,"v":4.7},{"s":"d","e":2.045,"v":4.63},{"s":"d","e":2.059,"v":4.53},{"s":"d","e":2.073,"v":4.43},{"s":"d","e":2.085,"v":4.38},{"s":"d","e":2.096,"v":4.32},{"s":"d","e":2.107,"v":4.25},{"s":"d","e":2.118,"v":4.17},{"s":"d","e":2.13,"v":4.12},{"s":"d","e":2.141,"v":4.06},{"s":"d","e":2.155,"v":4.0},{"s":"d","e":2.169,"v":3.92},{"s":"d","e":2.18,"v":3.86},{"s":"d","e":2.191,"v":3.8},{"s":"d","e":2.205,"v":3.72},{"s":"d","e":2.219,"v":3.62},{"s":"d","e":2.233,"v":3.54},{"s":"d","e":2.247,"v":3.46},{"s":"d","e":2.258,"v":3.38},{"s":"d","e":2.27,"v":3.3},{"s":"d","e":2.281,"v":3.25},{"s":"d","e":2.292,"v":3.2},{"s":"d","e":2.304,"v":3.17},{"s":"d","e":2.315,"v":3.13},{"s":"d","e":2.326,"v":3.08},{"s":"d","e":2.337,"v":3.04},{"s":"d","e":2.348,"v":3.0},{"s":"d","e":2.36,"v":2.96},{"s":"d","e":2.371,"v":2.97},{"s":"d","e":2.382,"v":3.0},{"s":"d","e":2.393,"v":3.03},{"s":"d","e":2.404,"v":3.06},{"s":"d","e":2.416,"v":3.1},{"s":"d","e":2.427,"v":3.15},{"s":"d","e":2.441,"v":3.22},{"s":"d","e":2.455,"v":3.32},{"s":"d","e":2.467,"v":3.4},{"s":"d","e":2.478,"v":3.48},{"s":"d","e":2.492,"v":3.55},{"s":"d","e":2.506,"v":3.61},
  {"s":"f","e":1.545,"v":0.16},{"s":"f","e":1.579,"v":0.49},{"s":"f","e":1.612,"v":0.94},{"s":"f","e":1.646,"v":1.65},{"s":"f","e":1.68,"v":2.69},{"s":"f","e":1.702,"v":3.72},{"s":"f","e":1.725,"v":4.95},{"s":"f","e":1.747,"v":5.66},{"s":"f","e":1.77,"v":5.89},{"s":"f","e":1.792,"v":5.79},{"s":"f","e":1.826,"v":5.6},{"s":"f","e":1.86,"v":5.4},{"s":"f","e":1.893,"v":5.31},{"s":"f","e":1.927,"v":5.29},{"s":"f","e":1.961,"v":5.15},{"s":"f","e":2.006,"v":4.89},{"s":"f","e":2.051,"v":4.63},{"s":"f","e":2.096,"v":4.37},{"s":"f","e":2.112,"v":4.17},{"s":"f","e":2.14,"v":3.46},{"s":"f","e":2.174,"v":2.43},{"s":"f","e":2.208,"v":1.59},{"s":"f","e":2.242,"v":0.94},{"s":"f","e":2.275,"v":0.49},{"s":"f","e":2.309,"v":0.19},{"s":"f","e":2.354,"v":0.03},{"s":"f","e":2.41,"v":0},{"s":"f","e":2.6,"v":0},
  {"s":"g1","e":1.55,"v":0.03},{"s":"g1","e":1.581,"v":0.13},{"s":"g1","e":1.606,"v":0.35},{"s":"g1","e":1.631,"v":0.79},{"s":"g1","e":1.656,"v":1.53},{"s":"g1","e":1.681,"v":2.57},{"s":"g1","e":1.706,"v":3.72},{"s":"g1","e":1.731,"v":4.64},{"s":"g1","e":1.756,"v":5.0},{"s":"g1","e":1.781,"v":4.76},{"s":"g1","e":1.806,"v":4.11},{"s":"g1","e":1.831,"v":3.22},{"s":"g1","e":1.856,"v":2.29},{"s":"g1","e":1.881,"v":1.48},{"s":"g1","e":1.906,"v":0.86},{"s":"g1","e":1.931,"v":0.46},{"s":"g1","e":1.956,"v":0.22},{"s":"g1","e":2.006,"v":0.04},{"s":"g1","e":2.056,"v":0.005},{"s":"g1","e":2.6,"v":0},
  {"s":"g2","e":1.55,"v":0},{"s":"g2","e":1.627,"v":0.004},{"s":"g2","e":1.677,"v":0.03},{"s":"g2","e":1.727,"v":0.18},{"s":"g2","e":1.752,"v":0.38},{"s":"g2","e":1.777,"v":0.72},{"s":"g2","e":1.802,"v":1.24},{"s":"g2","e":1.827,"v":1.92},{"s":"g2","e":1.852,"v":2.7},{"s":"g2","e":1.877,"v":3.45},{"s":"g2","e":1.902,"v":3.99},{"s":"g2","e":1.927,"v":4.19},{"s":"g2","e":1.952,"v":3.99},{"s":"g2","e":1.977,"v":3.45},{"s":"g2","e":2.002,"v":2.7},{"s":"g2","e":2.027,"v":1.92},{"s":"g2","e":2.052,"v":1.24},{"s":"g2","e":2.077,"v":0.72},{"s":"g2","e":2.102,"v":0.38},{"s":"g2","e":2.127,"v":0.18},{"s":"g2","e":2.177,"v":0.03},{"s":"g2","e":2.227,"v":0.004},{"s":"g2","e":2.6,"v":0},
  {"s":"g3","e":1.55,"v":0},{"s":"g3","e":1.798,"v":0.004},{"s":"g3","e":1.848,"v":0.03},{"s":"g3","e":1.898,"v":0.14},{"s":"g3","e":1.923,"v":0.27},{"s":"g3","e":1.948,"v":0.49},{"s":"g3","e":1.973,"v":0.81},{"s":"g3","e":1.998,"v":1.22},{"s":"g3","e":2.023,"v":1.68},{"s":"g3","e":2.048,"v":2.1},{"s":"g3","e":2.073,"v":2.41},{"s":"g3","e":2.098,"v":2.52},{"s":"g3","e":2.123,"v":2.41},{"s":"g3","e":2.148,"v":2.1},{"s":"g3","e":2.173,"v":1.68},{"s":"g3","e":2.198,"v":1.22},{"s":"g3","e":2.223,"v":0.81},{"s":"g3","e":2.248,"v":0.49},{"s":"g3","e":2.273,"v":0.27},{"s":"g3","e":2.298,"v":0.14},{"s":"g3","e":2.348,"v":0.03},{"s":"g3","e":2.398,"v":0.004},{"s":"g3","e":2.6,"v":0}
 ],
 "p5": [
  {"s":"d","e":1.363,"v":0.06},{"s":"d","e":1.376,"v":0.08},{"s":"d","e":1.39,"v":0.12},{"s":"d","e":1.403,"v":0.18},{"s":"d","e":1.416,"v":0.25},{"s":"d","e":1.43,"v":0.36},{"s":"d","e":1.443,"v":0.5},{"s":"d","e":1.456,"v":0.68},{"s":"d","e":1.469,"v":0.88},{"s":"d","e":1.482,"v":1.08},{"s":"d","e":1.495,"v":1.4},{"s":"d","e":1.508,"v":1.75},{"s":"d","e":1.521,"v":2.12},{"s":"d","e":1.534,"v":2.55},{"s":"d","e":1.547,"v":3.05},{"s":"d","e":1.56,"v":3.55},{"s":"d","e":1.573,"v":4.0},{"s":"d","e":1.586,"v":4.4},{"s":"d","e":1.599,"v":4.7},{"s":"d","e":1.612,"v":4.88},{"s":"d","e":1.625,"v":4.98},{"s":"d","e":1.638,"v":5.07},{"s":"d","e":1.651,"v":5.15},{"s":"d","e":1.664,"v":5.22},{"s":"d","e":1.677,"v":5.3},{"s":"d","e":1.69,"v":5.4},{"s":"d","e":1.703,"v":5.5},{"s":"d","e":1.716,"v":5.62},{"s":"d","e":1.729,"v":5.75},{"s":"d","e":1.742,"v":5.88},{"s":"d","e":1.755,"v":5.98},{"s":"d","e":1.768,"v":6.06},{"s":"d","e":1.781,"v":6.12},{"s":"d","e":1.794,"v":6.16},{"s":"d","e":1.807,"v":6.19},{"s":"d","e":1.82,"v":6.2},{"s":"d","e":1.833,"v":6.18},{"s":"d","e":1.846,"v":6.18},{"s":"d","e":1.859,"v":6.2},{"s":"d","e":1.872,"v":6.15},{"s":"d","e":1.885,"v":6.08},{"s":"d","e":1.898,"v":6.05},{"s":"d","e":1.911,"v":6.04},{"s":"d","e":1.924,"v":6.02},{"s":"d","e":1.937,"v":5.98},{"s":"d","e":1.95,"v":5.92},{"s":"d","e":1.963,"v":5.84},{"s":"d","e":1.976,"v":5.74},{"s":"d","e":1.989,"v":5.65},{"s":"d","e":2.002,"v":5.55},{"s":"d","e":2.021,"v":5.43},{"s":"d","e":2.04,"v":5.26},{"s":"d","e":2.059,"v":5.04},{"s":"d","e":2.078,"v":4.82},{"s":"d","e":2.097,"v":4.6},{"s":"d","e":2.117,"v":4.4},{"s":"d","e":2.136,"v":4.2},{"s":"d","e":2.155,"v":4.03},{"s":"d","e":2.174,"v":3.9},{"s":"d","e":2.193,"v":3.78},{"s":"d","e":2.212,"v":3.67},{"s":"d","e":2.232,"v":3.61},{"s":"d","e":2.251,"v":3.57},{"s":"d","e":2.27,"v":3.54},{"s":"d","e":2.289,"v":3.53},{"s":"d","e":2.308,"v":3.53},{"s":"d","e":2.328,"v":3.6},{"s":"d","e":2.347,"v":3.67},{"s":"d","e":2.366,"v":3.78},{"s":"d","e":2.385,"v":3.95},{"s":"d","e":2.405,"v":4.12},{"s":"d","e":2.424,"v":4.35},{"s":"d","e":2.443,"v":4.58},{"s":"d","e":2.462,"v":4.8},{"s":"d","e":2.482,"v":4.98},{"s":"d","e":2.501,"v":5.1},
  {"s":"f","e":1.356,"v":0.02},{"s":"f","e":1.395,"v":0.1},{"s":"f","e":1.434,"v":0.36},{"s":"f","e":1.46,"v":0.68},{"s":"f","e":1.487,"v":1.13},{"s":"f","e":1.513,"v":1.85},{"s":"f","e":1.545,"v":2.82},{"s":"f","e":1.578,"v":3.99},{"s":"f","e":1.604,"v":4.77},{"s":"f","e":1.643,"v":5.16},{"s":"f","e":1.682,"v":5.41},{"s":"f","e":1.721,"v":5.74},{"s":"f","e":1.76,"v":6.06},{"s":"f","e":1.799,"v":6.19},{"s":"f","e":1.838,"v":6.19},{"s":"f","e":1.877,"v":6.13},{"s":"f","e":1.917,"v":6.06},{"s":"f","e":1.956,"v":5.93},{"s":"f","e":1.982,"v":5.67},{"s":"f","e":2.0,"v":5.3},{"s":"f","e":2.015,"v":4.7},{"s":"f","e":2.03,"v":3.9},{"s":"f","e":2.045,"v":3.0},{"s":"f","e":2.06,"v":2.25},{"s":"f","e":2.075,"v":1.65},{"s":"f","e":2.09,"v":1.2},{"s":"f","e":2.105,"v":0.85},{"s":"f","e":2.125,"v":0.55},{"s":"f","e":2.15,"v":0.32},{"s":"f","e":2.18,"v":0.16},{"s":"f","e":2.22,"v":0.06},{"s":"f","e":2.27,"v":0.01},{"s":"f","e":2.3,"v":0},{"s":"f","e":2.6,"v":0},
  {"s":"g1","e":1.36,"v":0.02},{"s":"g1","e":1.417,"v":0.18},{"s":"g1","e":1.442,"v":0.36},{"s":"g1","e":1.467,"v":0.69},{"s":"g1","e":1.492,"v":1.18},{"s":"g1","e":1.517,"v":1.83},{"s":"g1","e":1.542,"v":2.57},{"s":"g1","e":1.567,"v":3.28},{"s":"g1","e":1.592,"v":3.8},{"s":"g1","e":1.617,"v":3.99},{"s":"g1","e":1.642,"v":3.8},{"s":"g1","e":1.667,"v":3.28},{"s":"g1","e":1.692,"v":2.57},{"s":"g1","e":1.717,"v":1.83},{"s":"g1","e":1.742,"v":1.18},{"s":"g1","e":1.767,"v":0.69},{"s":"g1","e":1.792,"v":0.36},{"s":"g1","e":1.817,"v":0.18},{"s":"g1","e":1.867,"v":0.03},{"s":"g1","e":1.917,"v":0.004},{"s":"g1","e":2.6,"v":0},
  {"s":"g2","e":1.36,"v":0},{"s":"g2","e":1.497,"v":0.01},{"s":"g2","e":1.547,"v":0.08},{"s":"g2","e":1.597,"v":0.36},{"s":"g2","e":1.622,"v":0.66},{"s":"g2","e":1.647,"v":1.12},{"s":"g2","e":1.672,"v":1.75},{"s":"g2","e":1.697,"v":2.51},{"s":"g2","e":1.722,"v":3.33},{"s":"g2","e":1.747,"v":4.08},{"s":"g2","e":1.772,"v":4.6},{"s":"g2","e":1.797,"v":4.79},{"s":"g2","e":1.822,"v":4.6},{"s":"g2","e":1.847,"v":4.08},{"s":"g2","e":1.872,"v":3.33},{"s":"g2","e":1.897,"v":2.51},{"s":"g2","e":1.922,"v":1.75},{"s":"g2","e":1.947,"v":1.12},{"s":"g2","e":1.972,"v":0.66},{"s":"g2","e":1.997,"v":0.36},{"s":"g2","e":2.047,"v":0.08},{"s":"g2","e":2.097,"v":0.01},{"s":"g2","e":2.6,"v":0},
  {"s":"g3","e":1.36,"v":0},{"s":"g3","e":1.68,"v":0.016},{"s":"g3","e":1.73,"v":0.08},{"s":"g3","e":1.78,"v":0.34},{"s":"g3","e":1.805,"v":0.6},{"s":"g3","e":1.83,"v":1.0},{"s":"g3","e":1.855,"v":1.52},{"s":"g3","e":1.88,"v":2.15},{"s":"g3","e":1.905,"v":2.82},{"s":"g3","e":1.93,"v":3.42},{"s":"g3","e":1.955,"v":3.84},{"s":"g3","e":1.98,"v":3.99},{"s":"g3","e":2.005,"v":3.74},{"s":"g3","e":2.03,"v":3.09},{"s":"g3","e":2.055,"v":2.25},{"s":"g3","e":2.08,"v":1.44},{"s":"g3","e":2.105,"v":0.81},{"s":"g3","e":2.13,"v":0.4},{"s":"g3","e":2.155,"v":0.18},{"s":"g3","e":2.18,"v":0.07},{"s":"g3","e":2.23,"v":0.007},{"s":"g3","e":2.6,"v":0},
  {"s":"x","e":2.5,"v":0}
 ],
 "p6": [
  {"s":"d","e":1.6,"v":0.02},{"s":"d","e":1.612,"v":0.02},{"s":"d","e":1.624,"v":0.02},{"s":"d","e":1.636,"v":0.03},{"s":"d","e":1.648,"v":0.03},{"s":"d","e":1.66,"v":0.04},{"s":"d","e":1.672,"v":0.04},{"s":"d","e":1.684,"v":0.05},{"s":"d","e":1.696,"v":0.07},{"s":"d","e":1.708,"v":0.09},{"s":"d","e":1.72,"v":0.12},{"s":"d","e":1.732,"v":0.15},{"s":"d","e":1.744,"v":0.2},{"s":"d","e":1.756,"v":0.27},{"s":"d","e":1.768,"v":0.36},{"s":"d","e":1.78,"v":0.48},{"s":"d","e":1.792,"v":0.62},{"s":"d","e":1.804,"v":0.82},{"s":"d","e":1.815,"v":1.2},{"s":"d","e":1.825,"v":1.65},{"s":"d","e":1.836,"v":2.26},{"s":"d","e":1.846,"v":2.97},{"s":"d","e":1.856,"v":3.5},{"s":"d","e":1.866,"v":3.95},{"s":"d","e":1.876,"v":4.43},{"s":"d","e":1.887,"v":4.8},{"s":"d","e":1.897,"v":5.1},{"s":"d","e":1.907,"v":5.33},{"s":"d","e":1.918,"v":5.5},{"s":"d","e":1.929,"v":5.6},{"s":"d","e":1.94,"v":5.66},{"s":"d","e":1.951,"v":5.68},{"s":"d","e":1.962,"v":5.67},{"s":"d","e":1.973,"v":5.64},{"s":"d","e":1.984,"v":5.58},{"s":"d","e":1.995,"v":5.53},{"s":"d","e":2.006,"v":5.5},{"s":"d","e":2.017,"v":5.47},{"s":"d","e":2.028,"v":5.44},{"s":"d","e":2.039,"v":5.46},{"s":"d","e":2.05,"v":5.52},{"s":"d","e":2.061,"v":5.58},{"s":"d","e":2.072,"v":5.63},{"s":"d","e":2.083,"v":5.66},{"s":"d","e":2.094,"v":5.68},{"s":"d","e":2.105,"v":5.69},{"s":"d","e":2.116,"v":5.68},{"s":"d","e":2.127,"v":5.65},{"s":"d","e":2.138,"v":5.58},{"s":"d","e":2.149,"v":5.5},{"s":"d","e":2.16,"v":5.44},{"s":"d","e":2.171,"v":5.37},{"s":"d","e":2.182,"v":5.31},{"s":"d","e":2.193,"v":5.25},{"s":"d","e":2.204,"v":5.2},{"s":"d","e":2.215,"v":5.15},{"s":"d","e":2.226,"v":5.09},{"s":"d","e":2.237,"v":5.03},{"s":"d","e":2.249,"v":4.96},{"s":"d","e":2.265,"v":4.88},{"s":"d","e":2.281,"v":4.82},{"s":"d","e":2.296,"v":4.72},{"s":"d","e":2.312,"v":4.62},{"s":"d","e":2.328,"v":4.52},{"s":"d","e":2.344,"v":4.43},{"s":"d","e":2.359,"v":4.33},{"s":"d","e":2.375,"v":4.2},{"s":"d","e":2.391,"v":4.1},{"s":"d","e":2.406,"v":4.0},{"s":"d","e":2.422,"v":3.91},{"s":"d","e":2.438,"v":3.81},{"s":"d","e":2.459,"v":3.75},{"s":"d","e":2.48,"v":3.71},{"s":"d","e":2.501,"v":3.65},{"s":"d","e":2.521,"v":3.63},{"s":"d","e":2.542,"v":3.63},{"s":"d","e":2.563,"v":3.58},{"s":"d","e":2.584,"v":3.55},
  {"s":"f","e":1.6,"v":0},{"s":"f","e":1.684,"v":0.04},{"s":"f","e":1.726,"v":0.15},{"s":"f","e":1.757,"v":0.31},{"s":"f","e":1.788,"v":0.64},{"s":"f","e":1.809,"v":0.96},{"s":"f","e":1.83,"v":1.54},{"s":"f","e":1.851,"v":2.32},{"s":"f","e":1.872,"v":3.36},{"s":"f","e":1.893,"v":4.26},{"s":"f","e":1.914,"v":5.17},{"s":"f","e":1.935,"v":5.56},{"s":"f","e":1.956,"v":5.68},{"s":"f","e":1.977,"v":5.63},{"s":"f","e":2.008,"v":5.5},{"s":"f","e":2.029,"v":5.44},{"s":"f","e":2.05,"v":5.53},{"s":"f","e":2.076,"v":5.66},{"s":"f","e":2.103,"v":5.69},{"s":"f","e":2.129,"v":5.66},{"s":"f","e":2.155,"v":5.5},{"s":"f","e":2.187,"v":5.3},{"s":"f","e":2.218,"v":5.11},{"s":"f","e":2.249,"v":4.88},{"s":"f","e":2.27,"v":4.59},{"s":"f","e":2.291,"v":4.13},{"s":"f","e":2.312,"v":3.49},{"s":"f","e":2.333,"v":2.64},{"s":"f","e":2.354,"v":1.87},{"s":"f","e":2.385,"v":1.15},{"s":"f","e":2.417,"v":0.7},{"s":"f","e":2.459,"v":0.31},{"s":"f","e":2.501,"v":0.12},{"s":"f","e":2.542,"v":0.04},{"s":"f","e":2.6,"v":0},
  {"s":"g1","e":1.6,"v":0},{"s":"g1","e":1.732,"v":0.02},{"s":"g1","e":1.757,"v":0.07},{"s":"g1","e":1.782,"v":0.21},{"s":"g1","e":1.807,"v":0.55},{"s":"g1","e":1.832,"v":1.19},{"s":"g1","e":1.857,"v":2.19},{"s":"g1","e":1.882,"v":3.38},{"s":"g1","e":1.907,"v":4.38},{"s":"g1","e":1.932,"v":4.78},{"s":"g1","e":1.957,"v":4.54},{"s":"g1","e":1.982,"v":3.89},{"s":"g1","e":2.007,"v":3.01},{"s":"g1","e":2.032,"v":2.1},{"s":"g1","e":2.057,"v":1.32},{"s":"g1","e":2.082,"v":0.75},{"s":"g1","e":2.107,"v":0.39},{"s":"g1","e":2.132,"v":0.18},{"s":"g1","e":2.182,"v":0.03},{"s":"g1","e":2.232,"v":0.003},{"s":"g1","e":2.6,"v":0},
  {"s":"g2","e":1.6,"v":0},{"s":"g2","e":1.801,"v":0.006},{"s":"g2","e":1.851,"v":0.045},{"s":"g2","e":1.901,"v":0.23},{"s":"g2","e":1.926,"v":0.45},{"s":"g2","e":1.951,"v":0.82},{"s":"g2","e":1.976,"v":1.35},{"s":"g2","e":2.001,"v":2.03},{"s":"g2","e":2.026,"v":2.79},{"s":"g2","e":2.051,"v":3.49},{"s":"g2","e":2.076,"v":4.0},{"s":"g2","e":2.101,"v":4.19},{"s":"g2","e":2.126,"v":4.0},{"s":"g2","e":2.151,"v":3.49},{"s":"g2","e":2.176,"v":2.79},{"s":"g2","e":2.201,"v":2.03},{"s":"g2","e":2.226,"v":1.35},{"s":"g2","e":2.251,"v":0.82},{"s":"g2","e":2.276,"v":0.45},{"s":"g2","e":2.301,"v":0.23},{"s":"g2","e":2.351,"v":0.045},{"s":"g2","e":2.401,"v":0.006},{"s":"g2","e":2.6,"v":0},
  {"s":"g3","e":1.6,"v":0},{"s":"g3","e":1.925,"v":0.007},{"s":"g3","e":1.975,"v":0.03},{"s":"g3","e":2.025,"v":0.13},{"s":"g3","e":2.075,"v":0.4},{"s":"g3","e":2.1,"v":0.64},{"s":"g3","e":2.125,"v":0.97},{"s":"g3","e":2.15,"v":1.36},{"s":"g3","e":2.175,"v":1.81},{"s":"g3","e":2.2,"v":2.25},{"s":"g3","e":2.225,"v":2.63},{"s":"g3","e":2.25,"v":2.89},{"s":"g3","e":2.275,"v":2.98},{"s":"g3","e":2.3,"v":2.82},{"s":"g3","e":2.325,"v":2.39},{"s":"g3","e":2.35,"v":1.81},{"s":"g3","e":2.375,"v":1.23},{"s":"g3","e":2.4,"v":0.74},{"s":"g3","e":2.425,"v":0.4},{"s":"g3","e":2.45,"v":0.2},{"s":"g3","e":2.475,"v":0.085},{"s":"g3","e":2.525,"v":0.012},{"s":"g3","e":2.6,"v":0}
 ]
}
}
